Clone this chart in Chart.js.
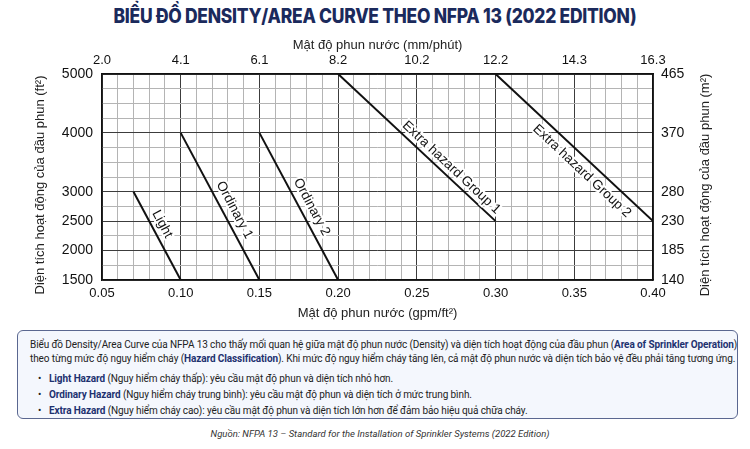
<!DOCTYPE html>
<html>
<head>
<meta charset="utf-8">
<script src="https://cdn.jsdelivr.net/npm/chart.js@4.4.1/dist/chart.umd.min.js"></script>
<style>
  body { margin: 0; width: 750px; height: 449px; background: #fff; position: relative; overflow: hidden; font-family: Roboto, "Liberation Sans", sans-serif; }
  h1 { position: absolute; top: 4px; left: 0; width: 750px; margin: 0; text-align: center; font-family: Inter, Roboto, sans-serif; font-weight: 800; font-size: 19.5px; color: #1b2a5c; letter-spacing: -0.3px; transform: scaleX(0.895); transform-origin: 375px 0; }
  .chart-wrap { position: absolute; left: 0; top: 30px; width: 750px; height: 295px; }
  .note { position: absolute; left: 17px; top: 330px; width: 719px; height: 87px; border: 1.5px solid #5a6790; border-radius: 6px; background: #f4f7fd; box-sizing: content-box; font-size: 10px; letter-spacing: -0.1px; color: #222; white-space: nowrap; }
  .note p { margin: 0; position: absolute; left: 12px; top: 7px; line-height: 14px; }
  .note ul { margin: 0; padding: 0; list-style: none; position: absolute; left: 20px; top: 40px; line-height: 16px; }
  .note li::before { content: "•"; position: absolute; left: 0; }
  .note li { padding-left: 11px; position: relative; }
  .note b { color: #1e3270; }
  .src { position: absolute; top: 428px; left: 0; width: 760px; text-align: center; font-size: 9.5px; font-style: italic; color: #333; }
</style>
</head>
<body>
<h1>BIỂU ĐỒ DENSITY/AREA CURVE THEO NFPA 13 (2022 EDITION)</h1>
<div class="chart-wrap"><canvas id="curve"></canvas></div>
<div class="note">
  <p>Biểu đồ Density/Area Curve của NFPA 13 cho thấy mối quan hệ giữa mật độ phun nước (Density) và diện tích hoạt động của đầu phun (<b>Area of Sprinkler Operation</b>)<br>theo từng mức độ nguy hiểm cháy (<b>Hazard Classification</b>). Khi mức độ nguy hiểm cháy tăng lên, cả mật độ phun nước và diện tích bảo vệ đều phải tăng tương ứng.</p>
  <ul>
    <li><b>Light Hazard</b> (Nguy hiểm cháy thấp): yêu cầu mật độ phun và diện tích nhỏ hơn.</li>
    <li><b>Ordinary Hazard</b> (Nguy hiểm cháy trung bình): yêu cầu mật độ phun và diện tích ở mức trung bình.</li>
    <li><b>Extra Hazard</b> (Nguy hiểm cháy cao): yêu cầu mật độ phun và diện tích lớn hơn để đảm bảo hiệu quả chữa cháy.</li>
  </ul>
</div>
<div class="src">Nguồn: NFPA 13 – Standard for the Installation of Sprinkler Systems (2022 Edition)</div>

<script>
// hazard curves: start / end point of each straight line (density gpm/ft2, area ft2)
const hazardNames = ['Light', 'Ordinary 1', 'Ordinary 2', 'Extra hazard Group 1', 'Extra hazard Group 2'];
const startDensity = [0.07, 0.10, 0.15, 0.20, 0.30];
const endDensity = [0.10, 0.15, 0.20, 0.30, 0.40];
const startArea = [3000, 4000, 4000, 5000, 5000];
const endArea = [1500, 1500, 1500, 2500, 2500];

// tick labels
const gpmTickLabels = ['0.05', '0.10', '0.15', '0.20', '0.25', '0.30', '0.35', '0.40'];
const mmTickLabels = ['2.0', '4.1', '6.1', '8.2', '10.2', '12.2', '14.3', '16.3'];
const ft2Ticks = [1500, 2000, 2500, 3000, 4000, 5000];
const m2TickLabels = ['140', '185', '230', '280', '370', '465'];

// where each label sits along its line (fraction) and how far off it (px, + = upper right)
const labelPlace = [[0.42, 10], [0.56, 11], [0.54, 11], [0.68, 9], [0.60, -12]];

const FONT = '"Liberation Sans", Arial, sans-serif';
const MAJOR = '#3c3c3c', MINOR = '#b4b4b4';

function gpmIndex(v) {
    const n = Math.round(v * 100);
    return n % 5 === 0 ? (n - 5) / 5 : -1;
}
function ftIndex(v) {
    return ft2Ticks.indexOf(Math.round(v));
}

const datasets = hazardNames.map((name, i) => ({
    label: name,
    data: [{x: startDensity[i], y: startArea[i]}, {x: endDensity[i], y: endArea[i]}],
    borderColor: '#111',
    borderWidth: 2,
    pointRadius: 0,
    fill: false,
    xAxisID: 'x',
    yAxisID: 'y'
}));

const curveLabels = {
    id: 'curveLabels',
    afterDatasetsDraw(chart) {
        const ctx = chart.ctx;
        ctx.save();
        ctx.font = '13.5px ' + FONT;
        ctx.textAlign = 'center';
        ctx.textBaseline = 'middle';
        chart.data.datasets.forEach((ds, i) => {
            const pts = chart.getDatasetMeta(i).data;
            const a = pts[0], b = pts[1];
            const ang = Math.atan2(b.y - a.y, b.x - a.x);
            const t = labelPlace[i][0], off = labelPlace[i][1];
            const x = a.x + (b.x - a.x) * t + Math.sin(ang) * off;
            const y = a.y + (b.y - a.y) * t - Math.cos(ang) * off;
            ctx.save();
            ctx.translate(x, y);
            ctx.rotate(ang);
            ctx.lineWidth = 4;
            ctx.strokeStyle = '#fff';
            ctx.strokeText(ds.label, 0, 0);
            ctx.fillStyle = '#111';
            ctx.fillText(ds.label, 0, 0);
            ctx.restore();
        });
        ctx.restore();
    },
    afterDraw(chart) {
        // vertical axis titles, both reading bottom to top
        const ctx = chart.ctx;
        const area = chart.chartArea;
        const cy = (area.top + area.bottom) / 2 + 8;
        ctx.save();
        ctx.font = '13px ' + FONT;
        ctx.fillStyle = '#222';
        ctx.textAlign = 'center';
        ctx.textBaseline = 'middle';
        [[40, 'Diện tích hoạt động của đầu phun (ft²)'], [705, 'Diện tích hoạt động của đầu phun (m²)']].forEach(([x, txt]) => {
            ctx.save();
            ctx.translate(x, cy);
            ctx.rotate(-Math.PI / 2);
            ctx.fillText(txt, 0, 0);
            ctx.restore();
        });
        ctx.restore();
    }
};

const borderStyle = {display: true, color: '#111', width: 1.5};

new Chart(document.getElementById('curve'), {
    type: 'line',
    data: {datasets: datasets},
    options: {
        responsive: true,
        maintainAspectRatio: false,
        animation: false,
        layout: {padding: 0},
        plugins: {
            legend: {display: false},
            tooltip: {enabled: false}
        },
        scales: {
            x: {
                type: 'linear',
                position: 'bottom',
                min: 0.05,
                max: 0.40,
                border: borderStyle,
                grid: {
                    drawTicks: false,
                    lineWidth: 1,
                    color: c => gpmIndex(c.tick.value) >= 0 ? MAJOR : MINOR
                },
                ticks: {
                    count: 36,
                    autoSkip: false,
                    maxRotation: 0,
                    padding: 6,
                    color: '#111',
                    font: {size: 13, family: FONT},
                    callback: v => { const k = gpmIndex(v); return k >= 0 ? gpmTickLabels[k] : ''; }
                },
                title: {
                    display: true,
                    text: 'Mật độ phun nước (gpm/ft²)',
                    color: '#222',
                    font: {size: 13, family: FONT},
                    padding: {top: 0, bottom: 4}
                },
                afterFit: s => { s.height = 45; }
            },
            x2: {
                type: 'linear',
                position: 'top',
                min: 0.05,
                max: 0.40,
                border: borderStyle,
                grid: {display: false, drawTicks: false},
                ticks: {
                    count: 8,
                    autoSkip: false,
                    maxRotation: 0,
                    padding: 6,
                    color: '#111',
                    font: {size: 13, family: FONT},
                    callback: v => { const k = gpmIndex(v); return k >= 0 ? mmTickLabels[k] : ''; }
                },
                title: {
                    display: true,
                    text: 'Mật độ phun nước (mm/phút)',
                    color: '#222',
                    font: {size: 13, family: FONT},
                    padding: {top: 8, bottom: 0}
                },
                afterFit: s => { s.height = 44; }
            },
            y: {
                type: 'linear',
                position: 'left',
                min: 1500,
                max: 5000,
                border: borderStyle,
                grid: {
                    drawTicks: false,
                    lineWidth: 1,
                    color: c => ftIndex(c.tick.value) >= 0 ? MAJOR : MINOR
                },
                ticks: {
                    count: 15,
                    autoSkip: false,
                    padding: 9,
                    color: '#111',
                    font: {size: 14, family: FONT},
                    callback: v => ftIndex(v) >= 0 ? String(v) : ''
                },
                afterFit: s => { s.width = 102; }
            },
            y2: {
                type: 'linear',
                position: 'right',
                min: 1500,
                max: 5000,
                border: borderStyle,
                grid: {display: false, drawTicks: false},
                ticks: {
                    count: 15,
                    autoSkip: false,
                    padding: 8,
                    color: '#111',
                    font: {size: 14, family: FONT},
                    callback: v => { const k = ftIndex(v); return k >= 0 ? m2TickLabels[k] : ''; }
                },
                afterFit: s => { s.width = 97; }
            }
        }
    },
    plugins: [curveLabels]
});
</script>
</body>
</html>
